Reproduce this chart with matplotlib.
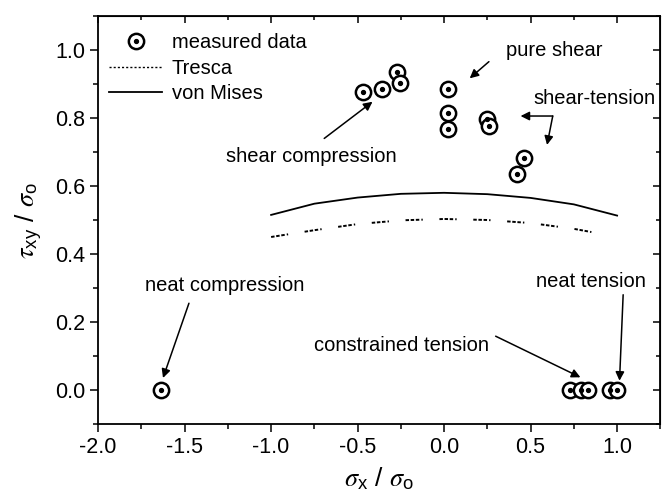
import matplotlib
matplotlib.use("Agg")
from matplotlib import pyplot as plt
from matplotlib.lines import Line2D
from matplotlib.legend_handler import HandlerTuple
from matplotlib.ticker import MultipleLocator

# measured data (sigma_x / sigma_o, tau_xy / sigma_o)
meas_x = [-0.47, -0.36, -0.27, -0.255, 0.02, 0.02, 0.02, 0.25, 0.26, 0.46, 0.42,
          -1.635, 0.73, 0.79, 0.83, 0.96, 1.0]
meas_y = [0.877, 0.886, 0.937, 0.903, 0.885, 0.814, 0.768, 0.797, 0.777, 0.683, 0.635,
          0.0, 0.0, 0.0, 0.0, 0.0, 0.0]

# yield curves
mises_x = [-1.0, -0.75, -0.5, -0.25, 0.0, 0.25, 0.5, 0.75, 1.0]
mises_y = [0.515, 0.548, 0.566, 0.577, 0.580, 0.576, 0.565, 0.546, 0.513]
tresca_x = [-1.0, -0.75, -0.5, -0.25, 0.0, 0.25, 0.5, 0.75, 0.9]
tresca_y = [0.450, 0.470, 0.488, 0.499, 0.503, 0.500, 0.491, 0.474, 0.460]

# annotations: (text, text position, [(arrow start, arrow tip), ...])
notes = [
    ('pure shear', (0.355, 0.998), 'left', [((0.259, 0.966), (0.148, 0.917))]),
    ('shear-tension', (1.22, 0.858), 'right', [((0.628, 0.806), (0.442, 0.806)),
                                               ((0.628, 0.806), (0.595, 0.721))]),
    ('shear compression', (-1.263, 0.686), 'left', [((-0.693, 0.740), (-0.414, 0.848))]),
    ('neat compression', (-1.731, 0.306), 'left', [((-1.475, 0.255), (-1.625, 0.035))]),
    ('constrained tension', (-0.754, 0.132), 'left', [((0.298, 0.158), (0.788, 0.037))]),
    ('neat tension', (0.532, 0.319), 'left', [((1.035, 0.28), (1.014, 0.027))]),
]

plt.rcParams['font.family'] = ['Liberation Sans', 'DejaVu Sans']
plt.rcParams['mathtext.fontset'] = 'stix'
plt.rcParams['axes.unicode_minus'] = False
plt.rcParams['lines.scale_dashes'] = False

fig = plt.figure(figsize=(6.63, 5.04), dpi=100)
ax = fig.add_axes([0.148, 0.159, 0.848, 0.809])

ax.plot(mises_x, mises_y, color='black', lw=1.3)
ax.plot(tresca_x, tresca_y, color='black', lw=1.4,
        linestyle=(0, (2.5, 1.2, 2.5, 1.2, 2.5, 1.5, 1, 12)))
ax.plot(meas_x, meas_y, 'o', ms=11, mfc='white', mec='black', mew=1.8, ls='none')
ax.plot(meas_x, meas_y, 'o', ms=2.8, color='black', ls='none')

ax.set_xlim(-2.0, 1.25)
ax.set_ylim(-0.1, 1.1)
ax.xaxis.set_major_locator(MultipleLocator(0.5))
ax.xaxis.set_minor_locator(MultipleLocator(0.25))
ax.yaxis.set_major_locator(MultipleLocator(0.2))
ax.yaxis.set_minor_locator(MultipleLocator(0.1))
ax.tick_params(which='both', direction='out', labelsize=15.5, width=1.1)
ax.tick_params(which='major', length=6)
ax.tick_params(which='minor', length=3.5)
ax.xaxis.set_major_formatter(plt.FormatStrFormatter('%.1f'))
ax.yaxis.set_major_formatter(plt.FormatStrFormatter('%.1f'))
for s in ax.spines.values():
    s.set_linewidth(1.3)

# inward ticks on top and right
top = ax.secondary_xaxis('top')
top.xaxis.set_major_locator(MultipleLocator(0.5))
top.xaxis.set_minor_locator(MultipleLocator(0.25))
top.tick_params(which='both', direction='in', labeltop=False, width=1.1)
top.tick_params(which='major', length=5)
top.tick_params(which='minor', length=3)
right = ax.secondary_yaxis('right')
right.yaxis.set_major_locator(MultipleLocator(0.2))
right.yaxis.set_minor_locator(MultipleLocator(0.1))
right.tick_params(which='both', direction='in', labelright=False, width=1.1)
right.tick_params(which='major', length=5)
right.tick_params(which='minor', length=3)

ax.set_xlabel(r'$\sigma_{\mathregular{x}}$ / $\sigma_{\mathregular{o}}$', fontsize=19, labelpad=5)
ax.set_ylabel(r'$\tau_{\mathregular{xy}}$ / $\sigma_{\mathregular{o}}$', fontsize=19, labelpad=7)

arrow = dict(arrowstyle='-|>', color='black', lw=1.1, mutation_scale=13,
             shrinkA=0, shrinkB=0)
fs = 14.5
for label, pos, ha, arrows in notes:
    ax.text(pos[0], pos[1], label, fontsize=fs, ha=ha, va='center')
    for start, tip in arrows:
        ax.annotate('', xy=tip, xytext=start, arrowprops=arrow)

h_meas = (Line2D([], [], marker='o', ms=11, mfc='white', mec='black', mew=1.8, ls='none'),
          Line2D([], [], marker='o', ms=2.8, color='black', ls='none'))
h_tres = Line2D([], [], color='black', lw=1.0, linestyle=(0, (1.5, 1.5)))
h_mis = Line2D([], [], color='black', lw=1.3)
ax.legend([h_meas, h_tres, h_mis], ['measured data', 'Tresca', 'von Mises'],
          handler_map={tuple: HandlerTuple(ndivide=1, pad=0)},
          loc='upper left', bbox_to_anchor=(0.02, 0.958), frameon=False,
          fontsize=fs, handlelength=2.6, handletextpad=0.5, labelspacing=0.32,
          borderpad=0, borderaxespad=0)

fig.savefig('out.png', dpi=100)
